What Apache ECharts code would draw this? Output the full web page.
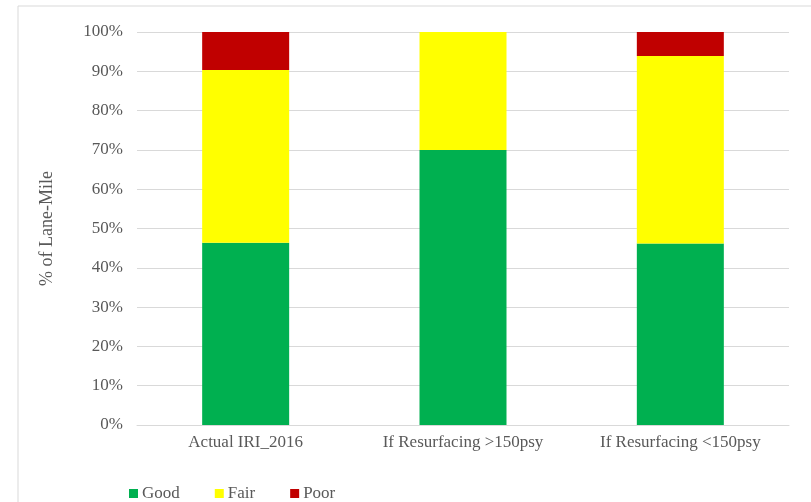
<!DOCTYPE html>
<html>
<head>
<meta charset="utf-8">
<script src="https://cdn.jsdelivr.net/npm/echarts@6/dist/echarts.min.js"></script>
<style>
  html, body { margin: 0; padding: 0; background: #fff; }
  #chart { width: 811px; height: 502px; }
</style>
</head>
<body>
<div id="chart"></div>
<script>
const categories = ['Actual IRI_2016', 'If Resurfacing >150psy', 'If Resurfacing <150psy'];
const good = [46.4, 70.0, 46.2];
const fair = [43.9, 30.0, 47.7];
const poor = [9.7, 0, 6.1];

const font = '"Liberation Serif", "Times New Roman", serif';
const textColor = '#595959';

const chart = echarts.init(document.getElementById('chart'));

function bar(name, data, color) {
  return {
    name,
    type: 'bar',
    stack: 'total',
    barWidth: 87,
    data,
    itemStyle: { color },
    emphasis: { disabled: true }
  };
}

chart.setOption({
  animation: false,
  graphic: [{
    type: 'rect',
    shape: { x: 18, y: 6, width: 900, height: 600 },
    style: { fill: 'none', stroke: '#d9d9d9', lineWidth: 1 },
    silent: true
  }],
  grid: { left: 137, right: 22, top: 32, bottom: 77 },
  legend: {
    left: 124,
    top: 480,
    itemWidth: 9,
    itemHeight: 9,
    itemGap: 35,
    icon: 'rect',
    textStyle: { fontFamily: font, fontSize: 17, color: textColor, padding: [0, 0, 0, -1] },
    data: ['Good', 'Fair', 'Poor']
  },
  xAxis: {
    type: 'category',
    data: categories,
    axisLine: { lineStyle: { color: '#d9d9d9' } },
    axisTick: { show: false },
    axisLabel: { fontFamily: font, fontSize: 17, color: textColor, margin: 9 }
  },
  yAxis: {
    type: 'value',
    min: 0,
    max: 100,
    interval: 10,
    name: '% of Lane-Mile',
    nameLocation: 'middle',
    nameGap: 81,
    nameTextStyle: { fontFamily: font, fontSize: 18, color: textColor },
    axisLabel: { formatter: '{value}%', fontFamily: font, fontSize: 17, color: textColor, margin: 14 },
    splitLine: { lineStyle: { color: '#d9d9d9' } }
  },
  series: [
    bar('Good', good, '#00b050'),
    bar('Fair', fair, '#ffff00'),
    bar('Poor', poor, '#c00000')
  ]
});
</script>
</body>
</html>
